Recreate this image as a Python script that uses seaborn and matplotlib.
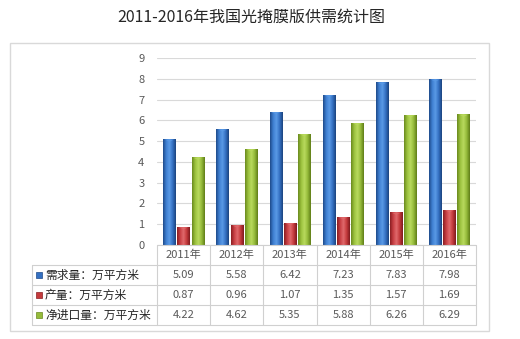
import numpy as np
import pandas as pd
import matplotlib
matplotlib.use("Agg")
import matplotlib.pyplot as plt
import seaborn as sns
from matplotlib.transforms import Affine2D, blended_transform_factory
from matplotlib.lines import Line2D
from matplotlib.patches import Rectangle
from matplotlib.colors import LinearSegmentedColormap

years = ["2011年", "2012年", "2013年", "2014年", "2015年", "2016年"]
series_names = ["需求量：万平方米", "产量：万平方米", "净进口量：万平方米"]
demand = [5.09, 5.58, 6.42, 7.23, 7.83, 7.98]
output = [0.87, 0.96, 1.07, 1.35, 1.57, 1.69]
net_import = [4.22, 4.62, 5.35, 5.88, 6.26, 6.29]
value_labels = [
    ["5.09", "5.58", "6.42", "7.23", "7.83", "7.98"],
    ["0.87", "0.96", "1.07", "1.35", "1.57", "1.69"],
    ["4.22", "4.62", "5.35", "5.88", "6.26", "6.29"],
]
y_ticks = [0, 1, 2, 3, 4, 5, 6, 7, 8, 9]
title = "2011-2016年我国光掩膜版供需统计图"

sns.set_style("white")
plt.rcParams['font.family'] = ['Noto Sans CJK SC', 'DejaVu Sans']

W, H = 520, 339
fig = plt.figure(figsize=(W / 100, H / 100), dpi=100)
fig.patch.set_facecolor("white")
pix = Affine2D().scale(1 / W, -1 / H).translate(0, 1) + fig.transFigure

ax = fig.add_axes([157 / W, 1 - 245 / H, (476 - 157) / W, (245 - 58) / H])

df = pd.DataFrame({
    "year": years * 3,
    "series": sum([[s] * len(years) for s in series_names], []),
    "value": demand + output + net_import,
})
base_colors = ["#3470C2", "#C43A3C", "#95BB3A"]
sns.barplot(data=df, x="year", y="value", hue="series", palette=base_colors,
            hue_order=series_names, order=years, width=0.8, gap=0.12,
            ax=ax, legend=False, saturation=1)

ax.set_xlim(-0.5, len(years) - 0.5)
ax.set_ylim(0, 9)
ax.set_yticks(y_ticks)
ax.set_yticklabels([str(t) for t in y_ticks], fontsize=8, color="#595959")
ax.tick_params(axis="y", length=0, pad=9)
ax.set_xticks([])
ax.set_xlabel("")
ax.set_ylabel("")
for s in ax.spines.values():
    s.set_visible(False)
ax.yaxis.grid(True, color="#D9D9D9", linewidth=0.8)
ax.set_axisbelow(True)

grads = [
    ["#1E4A8A", "#3F80D2", "#5A9AE6", "#3470C2", "#1B437E"],
    ["#8A1E22", "#C94044", "#E06A6C", "#C43A3C", "#7E1A1E"],
    ["#6A8A1E", "#9CC23E", "#B9DA5E", "#95BB3A", "#5F7D18"],
]
cmaps = [LinearSegmentedColormap.from_list(f"g{i}", g) for i, g in enumerate(grads)]
patches = list(ax.patches)
n = len(years)
for idx, p in enumerate(patches):
    si = idx // n
    x0, y0 = p.get_x(), p.get_y()
    w, h = p.get_width(), p.get_height()
    grad = np.linspace(0, 1, 64).reshape(1, -1)
    im = ax.imshow(grad, cmap=cmaps[si], aspect="auto",
                   extent=[x0, x0 + w, y0, y0 + h], zorder=p.get_zorder() + 0.1,
                   interpolation="bilinear")
    im.set_clip_path(p)
    p.set_edgecolor("none")
    light = grads[si][2]
    tri_h = 0.12
    ax.fill([x0 + w * 0.15, x0 + w * 0.85, x0 + w * 0.5],
            [y0 + h - 0.02, y0 + h - 0.02, y0 + h - tri_h],
            color=light, alpha=0.75, zorder=p.get_zorder() + 0.2, lw=0)

fig.text(251 / W, 1 - 17 / H, title, ha="center", va="center",
         fontsize=11.5, color="#262626")

fig.add_artist(Rectangle((10, 43), 479, 288, transform=pix, fill=False,
                         edgecolor="#D9D9D9", linewidth=1))

bt = blended_transform_factory(ax.transData, pix)
line_c = "#D0D0D0"
row_edges = [245, 265, 285, 305, 325]
for i in range(n + 1):
    fig.add_artist(Line2D([i - 0.5, i - 0.5], [245, 325], transform=bt,
                          color=line_c, lw=0.8))
for yy in row_edges:
    fig.add_artist(Line2D([-0.5, n - 0.5], [yy, yy], transform=bt,
                          color=line_c, lw=0.8))
for yy in row_edges[1:]:
    fig.add_artist(Line2D([32, 157], [yy, yy], transform=pix, color=line_c, lw=0.8))
fig.add_artist(Line2D([32, 32], [265, 325], transform=pix, color=line_c, lw=0.8))

for i, yname in enumerate(years):
    fig.text(i, 255, yname, transform=bt, ha="center", va="center",
             fontsize=8, color="#595959")
for r in range(3):
    yc = (row_edges[r + 1] + row_edges[r + 2]) / 2
    for i in range(n):
        fig.text(i, yc, value_labels[r][i], transform=bt, ha="center",
                 va="center", fontsize=8, color="#595959")
    fig.add_artist(Rectangle((36, yc - 3), 6, 6, transform=pix,
                             facecolor=base_colors[r], edgecolor=grads[r][0], lw=0.5))
    fig.text(45, yc, series_names[r], transform=pix, ha="left", va="center",
             fontsize=8.5, color="#262626")

fig.savefig("out.png", dpi=100, facecolor="white")
